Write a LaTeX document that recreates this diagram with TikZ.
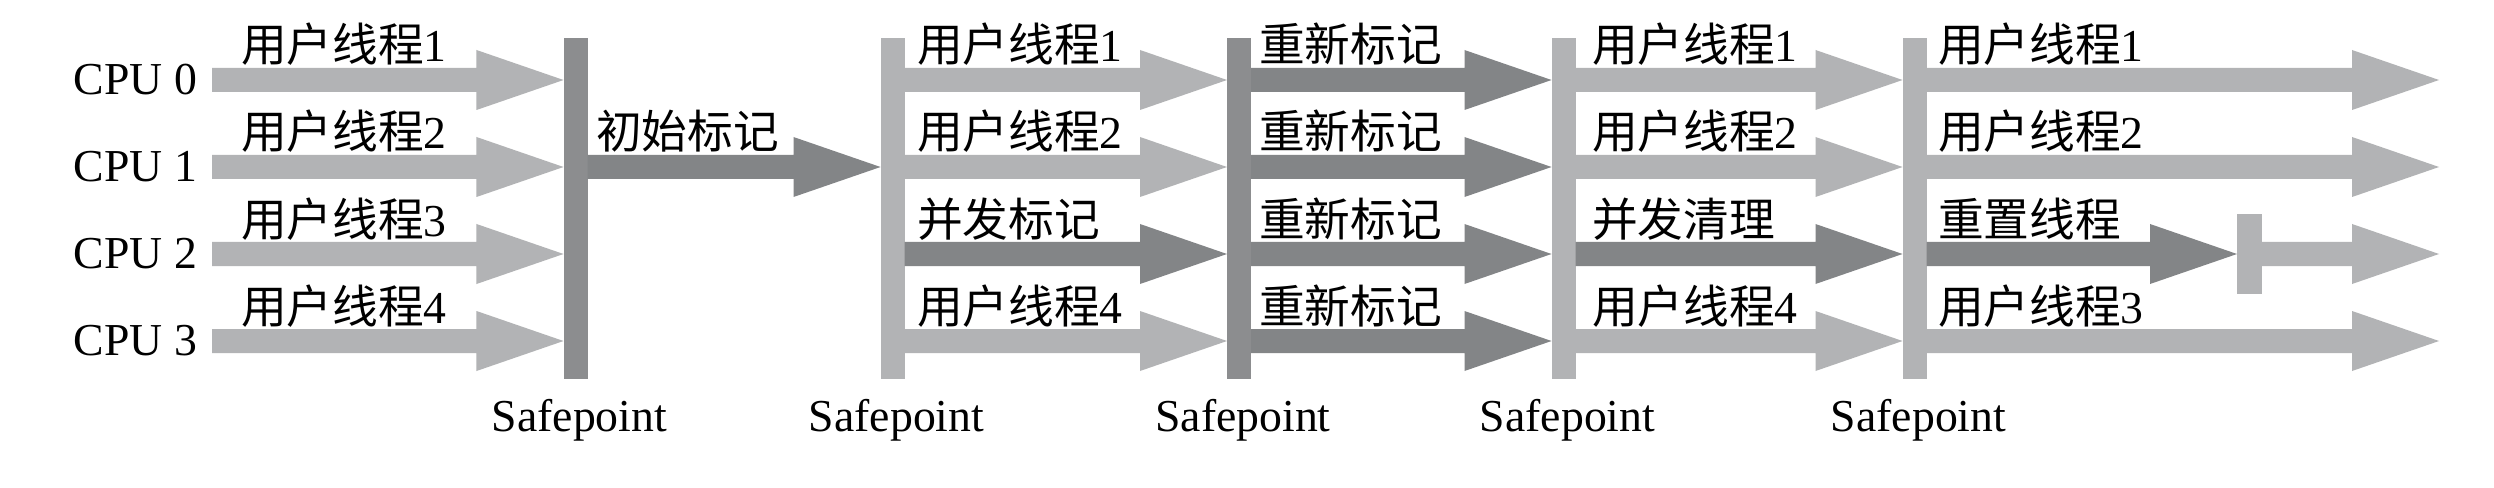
\documentclass[tikz,border=0pt]{standalone}
\usepackage{fontspec}
\setmainfont{Liberation Serif}
\newfontfamily\cjk{Noto Sans CJK SC}
\usetikzlibrary{calc}
\definecolor{lightg}{RGB}{178,179,181}
\definecolor{darkg}{RGB}{131,133,135}
\definecolor{bardark}{RGB}{140,141,143}
% block arrow from (#2) to tip at (#3), filled with style #1
\newcommand\blockarrow[3]{%
  \fill[#1] ($(#2)+(0,-12)$) -- ($(#3)+(-87,-12)$) -- ($(#3)+(-87,-30)$) -- (#3)
    -- ($(#3)+(-87,30)$) -- ($(#3)+(-87,12)$) -- ($(#2)+(0,12)$) -- cycle;}
\begin{document}
\begin{tikzpicture}[x=0.01cm,y=-0.01cm,
  txt/.style={font=\fontsize{13}{15}\selectfont, inner sep=0pt, outer sep=0pt},
  lbl/.style={txt, anchor=base west},
  barL/.style={fill=lightg, draw=none, minimum width=0.24cm, minimum height=3.41cm, inner sep=0pt, outer sep=0pt},
  barD/.style={barL, fill=bardark},
  arrL/.style={fill=lightg},
  arrD/.style={fill=darkg},
]
\fill[white] (0,0) rectangle (2494,488);
\useasboundingbox (0,0) rectangle (2494,488);
% rows
\coordinate (r0) at (0,80);
\coordinate (r1) at (0,167);
\coordinate (r2) at (0,254);
\coordinate (r3) at (0,341);
% safepoint bars
\node[barD] (sp1) at (575.5,208.5) {};
\node[barL] (sp2) at (892.5,208.5) {};
\node[barD] (sp3) at (1239,208.5) {};
\node[barL] (sp4) at (1563.5,208.5) {};
\node[barL] (sp5) at (1914.5,208.5) {};
\node[barL, minimum height=0.8cm, minimum width=0.25cm] (stop) at (2249.5,254) {};
% safepoint labels
\node[txt, anchor=base] (t1) at (579.5,431) {Safepoint};
\node[txt, anchor=base] (t2) at (896.5,431) {Safepoint};
\node[txt, anchor=base] (t3) at (1243,431) {Safepoint};
\node[txt, anchor=base] (t4) at (1567.5,431) {Safepoint};
\node[txt, anchor=base] (t5) at (1918.5,431) {Safepoint};
% CPU labels
\node[txt, anchor=east] (cpu0) at (197,80) {CPU 0};
\node[txt, anchor=east] (cpu1) at (197,167) {CPU 1};
\node[txt, anchor=east] (cpu2) at (197,254) {CPU 2};
\node[txt, anchor=east] (cpu3) at (197,341) {CPU 3};
\coordinate (s0) at (212,80);
\coordinate (s1) at (212,167);
\coordinate (s2) at (212,254);
\coordinate (s3) at (212,341);
\coordinate (e0) at (2439,80);
\coordinate (e1) at (2439,167);
\coordinate (e2) at (2439,254);
\coordinate (e3) at (2439,341);
% group 1
\blockarrow{arrL}{s0}{sp1.west |- r0}
\blockarrow{arrL}{s1}{sp1.west |- r1}
\blockarrow{arrL}{s2}{sp1.west |- r2}
\blockarrow{arrL}{s3}{sp1.west |- r3}
\node[lbl] (a0) at (241,62) {{\cjk 用户线程}1};
\node[lbl] (a1) at (241,149) {{\cjk 用户线程}2};
\node[lbl] (a2) at (241,236) {{\cjk 用户线程}3};
\node[lbl] (a3) at (241,323) {{\cjk 用户线程}4};
% group 2
\blockarrow{arrD}{sp1.east |- r1}{sp2.west |- r1}
\node[lbl] (b1) at (596,149) {\cjk 初始标记};
% group 3
\blockarrow{arrL}{sp2.east |- r0}{sp3.west |- r0}
\blockarrow{arrL}{sp2.east |- r1}{sp3.west |- r1}
\blockarrow{arrD}{sp2.east |- r2}{sp3.west |- r2}
\blockarrow{arrL}{sp2.east |- r3}{sp3.west |- r3}
\node[lbl] (c0) at (917,62) {{\cjk 用户线程}1};
\node[lbl] (c1) at (917,149) {{\cjk 用户线程}2};
\node[lbl] (c2) at (917,236) {\cjk 并发标记};
\node[lbl] (c3) at (917,323) {{\cjk 用户线程}4};
% group 4
\blockarrow{arrD}{sp3.east |- r0}{sp4.west |- r0}
\blockarrow{arrD}{sp3.east |- r1}{sp4.west |- r1}
\blockarrow{arrD}{sp3.east |- r2}{sp4.west |- r2}
\blockarrow{arrD}{sp3.east |- r3}{sp4.west |- r3}
\node[lbl] (d0) at (1259,62) {\cjk 重新标记};
\node[lbl] (d1) at (1259,149) {\cjk 重新标记};
\node[lbl] (d2) at (1259,236) {\cjk 重新标记};
\node[lbl] (d3) at (1259,323) {\cjk 重新标记};
% group 5
\blockarrow{arrL}{sp4.east |- r0}{sp5.west |- r0}
\blockarrow{arrL}{sp4.east |- r1}{sp5.west |- r1}
\blockarrow{arrD}{sp4.east |- r2}{sp5.west |- r2}
\blockarrow{arrL}{sp4.east |- r3}{sp5.west |- r3}
\node[lbl] (f0) at (1592,62) {{\cjk 用户线程}1};
\node[lbl] (f1) at (1592,149) {{\cjk 用户线程}2};
\node[lbl] (f2) at (1592,236) {\cjk 并发清理};
\node[lbl] (f3) at (1592,323) {{\cjk 用户线程}4};
% group 6
\blockarrow{arrL}{sp5.east |- r0}{e0}
\blockarrow{arrL}{sp5.east |- r1}{e1}
\blockarrow{arrD}{sp5.east |- r2}{stop.west |- r2}
\blockarrow{arrL}{stop.east |- r2}{e2}
\blockarrow{arrL}{sp5.east |- r3}{e3}
\node[lbl] (g0) at (1938,62) {{\cjk 用户线程}1};
\node[lbl] (g1) at (1938,149) {{\cjk 用户线程}2};
\node[lbl] (g2) at (1938,236) {\cjk 重置线程};
\node[lbl] (g3) at (1938,323) {{\cjk 用户线程}3};
\end{tikzpicture}
\end{document}
